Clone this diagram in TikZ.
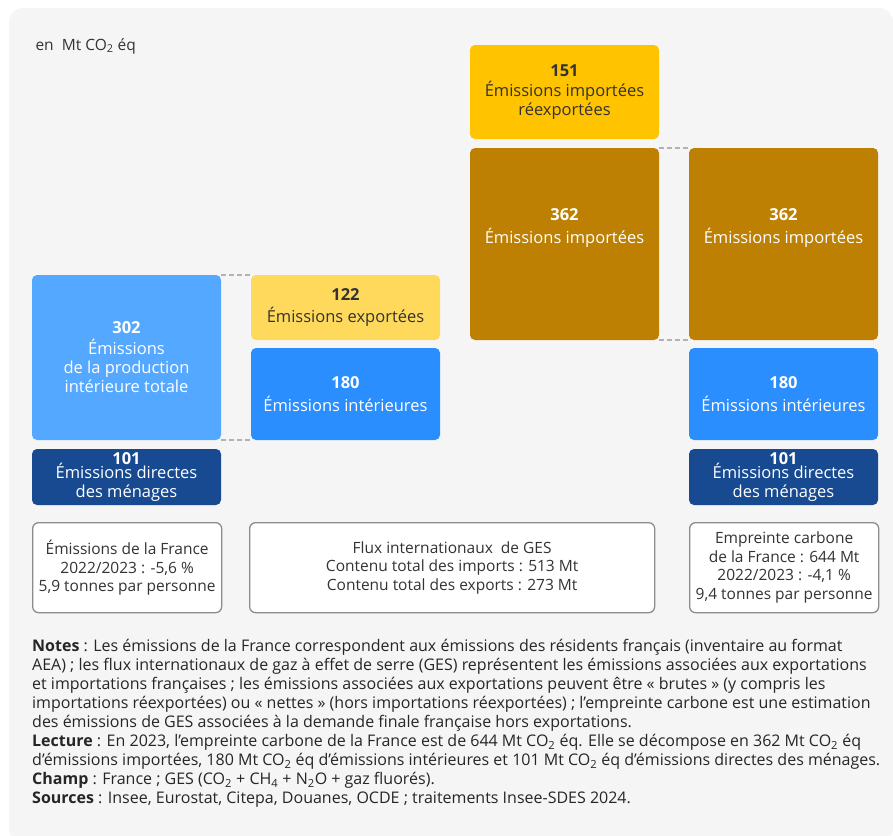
\documentclass[tikz,border=0pt]{standalone}
\usepackage{fontspec}
\setmainfont{Open Sans}
\usetikzlibrary{positioning}
\definecolor{fond}{HTML}{F5F5F5}
\definecolor{bleuclair}{HTML}{55A8FF}
\definecolor{bleu}{HTML}{2A8EFF}
\definecolor{bleufonce}{HTML}{174A91}
\definecolor{jaune}{HTML}{FFD95C}
\definecolor{jaunefonce}{HTML}{FFC300}
\definecolor{ocre}{HTML}{BD8003}
\definecolor{texte}{HTML}{333333}
\newcommand{\cod}{CO\textsubscript{2}}

\begin{document}
\begin{tikzpicture}[x=1pt,y=-1pt,
    bloc/.style={anchor=north west,rounded corners=5pt,minimum width=189pt,inner sep=0pt,outer sep=0pt,
        align=center,text=white,font=\fontsize{16.5}{19}\selectfont},
    info/.style={anchor=north west,draw=black!45,line width=1.3pt,fill=white,rounded corners=6pt,
        minimum height=90pt,inner sep=0pt,align=center,text=texte,font=\fontsize{15.5}{18.5}\selectfont},
    pointille/.style={draw=black!30,line width=1.8pt,dash pattern=on 5pt off 3pt}]
\useasboundingbox (0,0) rectangle (893,835);
\fill[fond,rounded corners=14pt] (9,8) rectangle (893,842);
\node[anchor=base west,text=texte,font=\fontsize{15.5}{18}\selectfont] (unite) at (32,50) {en\ \ Mt \cod{} éq};

\node[bloc,fill=bleuclair,minimum height=165pt] (prod) at (32,275)
    {\textbf{302}\\[2pt] Émissions\\ de la production\\ intérieure totale};
\node[bloc,fill=jaune,minimum height=65pt,text=texte] (export) at (251,275)
    {\textbf{122}\\[3pt] Émissions exportées};
\node[bloc,fill=bleu,minimum height=92pt] (inter) at (251,348)
    {\textbf{180}\\[4pt] Émissions intérieures};
\node[bloc,fill=bleufonce,minimum height=56pt] (menages) at (32,449)
    {\textbf{101}\\[-5pt] Émissions directes\\ des ménages};

\node[bloc,fill=jaunefonce,minimum height=94pt,text=texte] (reexport) at (470,45)
    {\textbf{151}\\[1pt] Émissions importées\\ réexportées};
\node[bloc,fill=ocre,minimum height=192pt] (import) at (470,148) {};
\node[text=white,align=center,font=\fontsize{16.5}{19}\selectfont] (importtxt) at ([yshift=16pt]import.center)
    {\textbf{362}\\[4pt] Émissions importées};
\node[bloc,fill=ocre,minimum height=192pt] (importR) at (689,148) {};
\node[text=white,align=center,font=\fontsize{16.5}{19}\selectfont] (importRtxt) at ([yshift=16pt]importR.center)
    {\textbf{362}\\[4pt] Émissions importées};
\node[bloc,fill=bleu,minimum height=92pt] (interR) at (689,348)
    {\textbf{180}\\[4pt] Émissions intérieures};
\node[bloc,fill=bleufonce,minimum height=56pt] (menagesR) at (689,449)
    {\textbf{101}\\[-5pt] Émissions directes\\ des ménages};

\draw[pointille] (prod.north east) -- (export.north west);
\draw[pointille] (prod.south east) -- (inter.south west);
\draw[pointille] (import.north east) -- (importR.north west);
\draw[pointille] (import.south east) -- (importR.south west);

\node[info,minimum width=189pt] (france) at (32,522)
    {Émissions de la France\\ 2022/2023 : -5,6 \%\\ 5,9 tonnes par personne};
\node[info,minimum width=405pt] (flux) at (249,522)
    {Flux internationaux\ \ de GES\\ Contenu total des imports : 513 Mt\\ Contenu total des exports : 273 Mt};
\node[info,minimum width=189pt] (empreinte) at (689,522)
    {Empreinte carbone\\ de la France : 644 Mt\\ 2022/2023 : -4,1 \%\\ 9,4 tonnes par personne};

\node[anchor=north west,inner sep=0pt,align=left,text=black!85,font=\fontsize{16}{19}\selectfont] (notes) at (32,639)
{\textbf{Notes} : Les émissions de la France correspondent aux émissions des résidents français (inventaire au format\\
AEA) ; les flux internationaux de gaz à effet de serre (GES) représentent les émissions associées aux exportations\\
et importations françaises ; les émissions associées aux exportations peuvent être «~brutes~» (y compris les\\
importations réexportées) ou «~nettes~» (hors importations réexportées) ; l'empreinte carbone est une estimation\\
des émissions de GES associées à la demande finale française hors exportations.\\
\textbf{Lecture} : En 2023, l'empreinte carbone de la France est de 644 Mt \cod{} éq. Elle se décompose en 362 Mt \cod{} éq\\
d'émissions importées, 180 Mt \cod{} éq d'émissions intérieures et 101 Mt \cod{} éq d'émissions directes des ménages.\\
\textbf{Champ} : France ; GES (\cod{} + CH\textsubscript{4} + N\textsubscript{2}O + gaz fluorés).\\
\textbf{Sources} : Insee, Eurostat, Citepa, Douanes, OCDE ; traitements Insee-SDES 2024.};
\end{tikzpicture}
\end{document}
